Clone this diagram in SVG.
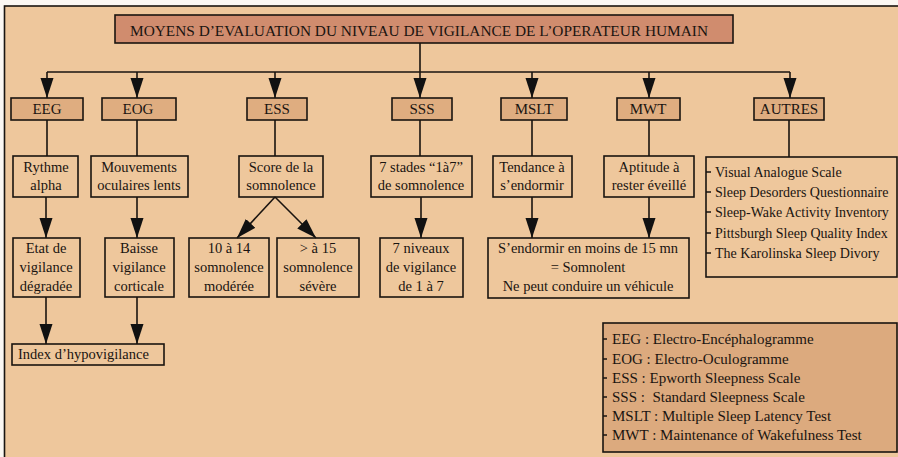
<svg xmlns="http://www.w3.org/2000/svg" width="898" height="457" viewBox="0 0 898 457">
<defs>
<marker id="arr" markerUnits="userSpaceOnUse" markerWidth="20" markerHeight="14" viewBox="0 -7 20 14" refX="20" refY="0" orient="auto">
<path d="M0,-6.5 L20,0 L0,6.5 z" fill="#111"/>
</marker>
</defs>
<style>
text{font-family:"Liberation Serif","Times New Roman",serif;font-size:14.5px;fill:#1a1410;text-anchor:middle}
.box{fill:none;stroke:#1a1410;stroke-width:1.6}
.h1{fill:#dfad80;stroke:#1a1410;stroke-width:1.6}
.title{fill:#d08c6e;stroke:#1a1410;stroke-width:1.6}
.leg{fill:#dcaa7e;stroke:#1a1410;stroke-width:1.6}
.c{fill:none;stroke:#1a1410;stroke-width:1.6}
.l{text-anchor:start}
.s{font-size:14px}
.g{font-size:15px}
.tick{stroke:#1a1410;stroke-width:1.4}
</style>
<rect x="0" y="0" width="898" height="457" fill="#fbf7f2"/>
<rect x="4.5" y="6" width="900" height="460" fill="#eec79c" stroke="#1a1410" stroke-width="1.6"/>

<g id="connectors">
<path class="c" d="M420,43 V72 M47,72 H790"/>
<path class="c" marker-end="url(#arr)" d="M47,72 V98"/>
<path class="c" marker-end="url(#arr)" d="M137,72 V98"/>
<path class="c" marker-end="url(#arr)" d="M275,72 V98"/>
<path class="c" marker-end="url(#arr)" d="M420,72 V98"/>
<path class="c" marker-end="url(#arr)" d="M532,72 V98"/>
<path class="c" marker-end="url(#arr)" d="M649,72 V98"/>
<path class="c" marker-end="url(#arr)" d="M790,72 V98"/>
<path class="c" d="M47,120 V156 M137,120 V156 M275,120 V156 M420,120 V156 M532,120 V156 M649,120 V156 M789,120 V157"/>
<path class="c" marker-end="url(#arr)" d="M46,197 V238"/>
<path class="c" marker-end="url(#arr)" d="M137,197 V238"/>
<path class="c" marker-end="url(#arr)" d="M275,197 L237,238"/>
<path class="c" marker-end="url(#arr)" d="M275,197 L316,238"/>
<path class="c" marker-end="url(#arr)" d="M421,197 V238"/>
<path class="c" marker-end="url(#arr)" d="M532,197 V238"/>
<path class="c" marker-end="url(#arr)" d="M649,197 V238"/>
<path class="c" marker-end="url(#arr)" d="M46,297 V344"/>
<path class="c" marker-end="url(#arr)" d="M137,297 V344"/>
</g>

<g id="title">
<rect class="title" x="115" y="15" width="618" height="28"/>
<text x="419" y="36" textLength="578" lengthAdjust="spacingAndGlyphs">MOYENS D’EVALUATION DU NIVEAU DE VIGILANCE DE L’OPERATEUR HUMAIN</text>
</g>

<g id="eeg"><rect class="h1" x="11" y="98" width="72" height="22"/><text x="47" y="114" class="g">EEG</text></g>
<g id="eog"><rect class="h1" x="102" y="98" width="74" height="22"/><text x="138" y="114" class="g">EOG</text></g>
<g id="ess"><rect class="h1" x="247" y="98" width="60" height="22"/><text x="277" y="114" class="g">ESS</text></g>
<g id="sss"><rect class="h1" x="392" y="98" width="60" height="22"/><text x="422" y="114" class="g">SSS</text></g>
<g id="mslt"><rect class="h1" x="501" y="98" width="66" height="22"/><text x="534" y="114" class="g">MSLT</text></g>
<g id="mwt"><rect class="h1" x="617" y="98" width="63" height="22"/><text x="648" y="114" class="g">MWT</text></g>
<g id="autres"><rect class="h1" x="754" y="98" width="70" height="22"/><text x="789" y="114" class="g">AUTRES</text></g>

<g id="rythme"><rect class="box" x="13" y="156" width="65" height="41"/><text x="46" y="172">Rythme</text><text x="46" y="190">alpha</text></g>
<g id="mouvements"><rect class="box" x="91" y="156" width="97" height="41"/><text x="139" y="172">Mouvements</text><text x="139" y="190">oculaires lents</text></g>
<g id="score"><rect class="box" x="239" y="156" width="84" height="41"/><text x="281" y="172">Score de la</text><text x="281" y="190">somnolence</text></g>
<g id="stades"><rect class="box" x="371" y="156" width="101" height="41"/><text x="421" y="172">7 stades “1à7”</text><text x="421" y="190">de somnolence</text></g>
<g id="tendance"><rect class="box" x="493" y="156" width="79" height="41"/><text x="532" y="172">Tendance à</text><text x="532" y="190">s’endormir</text></g>
<g id="aptitude"><rect class="box" x="604" y="156" width="90" height="41"/><text x="649" y="172">Aptitude à</text><text x="649" y="190">rester éveillé</text></g>

<g id="autres-list">
<rect class="box" x="706" y="157" width="191" height="120"/>
<path class="tick" d="M706,172 H711 M706,192 H711 M706,212 H711 M706,233 H711 M706,253 H711"/>
<text class="l s" x="715" y="177">Visual Analogue Scale</text>
<text class="l s" x="715" y="197">Sleep Desorders Questionnaire</text>
<text class="l s" x="715" y="217">Sleep-Wake Activity Inventory</text>
<text class="l s" x="715" y="238">Pittsburgh Sleep Quality Index</text>
<text class="l s" x="715" y="258">The Karolinska Sleep Divory</text>
</g>

<g id="etat"><rect class="box" x="13" y="238" width="67" height="59"/><text x="46" y="253">Etat de</text><text x="46" y="272">vigilance</text><text x="46" y="291">dégradée</text></g>
<g id="baisse"><rect class="box" x="105" y="238" width="69" height="59"/><text x="139" y="253">Baisse</text><text x="139" y="272">vigilance</text><text x="139" y="291">corticale</text></g>
<g id="moderee"><rect class="box" x="189" y="238" width="80" height="59"/><text x="229" y="253">10 à 14</text><text x="229" y="272">somnolence</text><text x="229" y="291">modérée</text></g>
<g id="severe"><rect class="box" x="277" y="238" width="82" height="59"/><text x="318" y="253">&gt; à 15</text><text x="318" y="272">somnolence</text><text x="318" y="291">sévère</text></g>
<g id="niveaux"><rect class="box" x="380" y="238" width="83" height="59"/><text x="421" y="253">7 niveaux</text><text x="421" y="272">de vigilance</text><text x="421" y="291">de 1 à 7</text></g>
<g id="endormir"><rect class="box" x="488" y="238" width="201" height="60"/><text x="588" y="253">S’endormir en moins de 15 mn</text><text x="588" y="272">= Somnolent</text><text x="588" y="291">Ne peut conduire un véhicule</text></g>

<g id="index"><rect class="box" x="12" y="344" width="152" height="21"/><text class="l" x="18" y="359">Index d’hypovigilance</text></g>

<g id="legend">
<rect class="leg" x="603" y="323" width="294" height="129"/>
<path class="tick" d="M603,339 H607 M603,359 H607 M603,378 H607 M603,397 H607 M603,416 H607 M603,435 H607"/>
<text class="l g" x="612" y="344">EEG : Electro-Encéphalogramme</text>
<text class="l g" x="612" y="364">EOG : Electro-Oculogramme</text>
<text class="l g" x="612" y="383">ESS : Epworth Sleepness Scale</text>
<text class="l g" x="612" y="402" style="white-space:pre">SSS :  Standard Sleepness Scale</text>
<text class="l g" x="612" y="421">MSLT : Multiple Sleep Latency Test</text>
<text class="l g" x="612" y="440">MWT : Maintenance of Wakefulness Test</text>
</g>
</svg>
